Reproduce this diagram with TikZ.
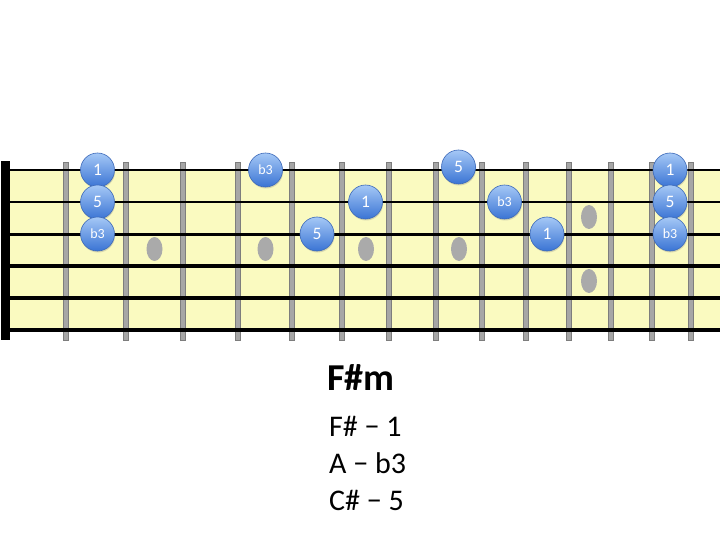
\documentclass[tikz,border=0pt]{standalone}
\usepackage{fontspec}
\setmainfont{Carlito}
\usetikzlibrary{shadows}
\definecolor{board}{RGB}{250,250,192}
\definecolor{fretfill}{RGB}{166,166,166}
\definecolor{fretedge}{RGB}{125,125,125}
\definecolor{dotgray}{RGB}{170,170,170}
\definecolor{notetop}{RGB}{165,200,246}
\definecolor{notebot}{RGB}{58,116,212}
\definecolor{noteedge}{RGB}{60,105,185}
\begin{document}
\begin{tikzpicture}[x=1pt,y=-1pt,
  fretbar/.style={fill=fretfill,draw=fretedge,line width=0.8pt},
  inlay/.style={fill=dotgray,draw=none},
  note/.style={circle,minimum size=34pt,inner sep=0pt,top color=notetop,bottom color=notebot,
    draw=noteedge,line width=0.6pt,text=white,font=\fontsize{17.5}{17.5}\selectfont,
    drop shadow={shadow xshift=0.6pt,shadow yshift=-1.5pt,opacity=0.3}},
  smallnote/.style={note,font=\fontsize{14}{14}\selectfont},
  label/.style={anchor=base west,inner sep=0pt,font=\fontsize{30}{30}\selectfont}]
\fill[white] (0,0) rectangle (720,540);
\useasboundingbox (0,0) rectangle (720,540);
% board
\fill[board] (10,170) rectangle (720,330);
% frets
\foreach \x in {66,126,183,238,292,342,389,436,482,526,569,611,652,691}
  \draw[fretbar] (\x-2.7,162) rectangle (\x+2.7,340);
% inlays
\foreach \x/\y in {154.5/249,265.5/249,366/249,459/249,589/217,589/281}
  \fill[inlay] (\x,\y) ellipse [x radius=8pt, y radius=12pt];
% strings
\foreach \y/\w in {170/2.4,202/2.7,234/3,266/3.3,298/3.7,330/4.4}
  \draw[line width=\w pt] (10,\y) -- (720,\y);
% nut
\fill[black] (1,161) rectangle (10,340);
% notes
\node[note] (a1) at (97.5,170) {1};
\node[note] (a2) at (97.5,202) {5};
\node[smallnote] (a3) at (97.5,234) {b3};
\node[smallnote] (b1) at (265.5,170) {b3};
\node[note] (b2) at (317,234) {5};
\node[note] (b3) at (365.5,202) {1};
\node[note] (c1) at (458.5,167) {5};
\node[smallnote] (c2) at (504.5,202) {b3};
\node[note] (c3) at (547,234) {1};
\node[note] (d1) at (670,170) {1};
\node[note] (d2) at (670,202) {5};
\node[smallnote] (d3) at (670,234) {b3};
% text
\node[anchor=base west,inner sep=0pt,font=\bfseries\fontsize{38}{38}\selectfont] (title) at (327,390) {F\#m};
\node[label] (l1) at (329,436) {F\# − 1};
\node[label] (l2) at (329,473) {A − b3};
\node[label] (l3) at (329,510) {C\# − 5};
\end{tikzpicture}
\end{document}
